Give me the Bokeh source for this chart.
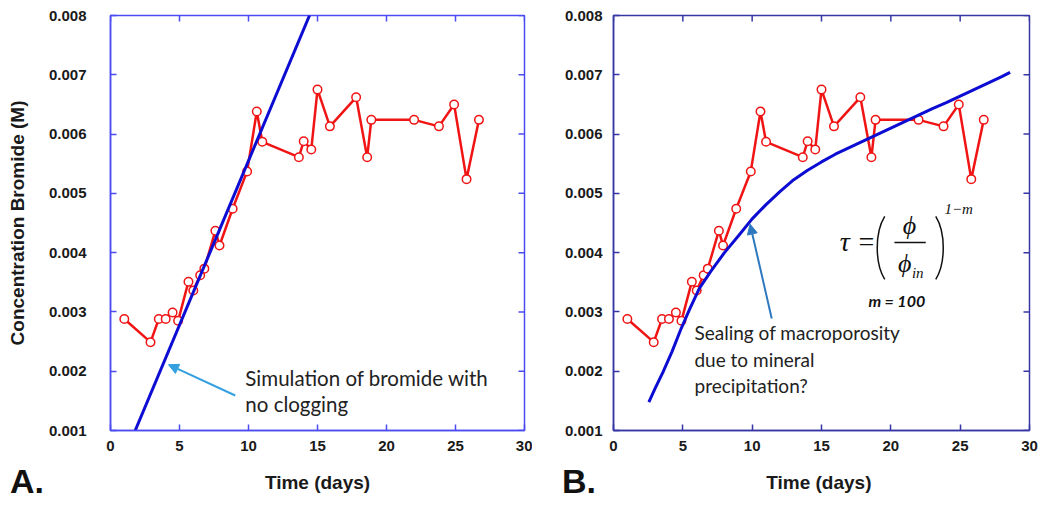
from math import pi
from bokeh.plotting import figure
from bokeh.layouts import row, column
from bokeh.models import (Range1d, FixedTicker, Label, Arrow, NormalHead,
                          ColumnDataSource, Div)
from bokeh.embed import file_html
from bokeh.resources import INLINE

# ---- data ----
time_days = [1.0, 2.9, 3.5, 4.0, 4.5, 4.9, 5.65, 6.0, 6.5, 6.8, 7.6, 7.9, 8.85,
             9.9, 10.6, 11.0, 13.65, 14.0, 14.55, 15.0, 15.9, 17.8, 18.6, 18.9,
             22.0, 23.8, 24.9, 25.8, 26.7]
bromide_m = [0.00288, 0.00249, 0.00288, 0.00288, 0.00299, 0.00285, 0.00351,
             0.00336, 0.00362, 0.00373, 0.00437, 0.00412, 0.00474, 0.00537,
             0.00638, 0.00587, 0.00561, 0.00588, 0.00574, 0.00675, 0.00613,
             0.00662, 0.00561, 0.00624, 0.00624, 0.00613, 0.00650, 0.00524,
             0.00624]

sim_a_time = [1.79, 14.42]
sim_a_conc = [0.001, 0.008]

sim_b_time = [2.55, 3.0, 3.56, 4.22, 4.88, 5.5, 6.2, 7.0, 8.0, 9.0, 10.0,
              11.0, 12.0, 13.0, 14.0, 15.0, 16.0, 17.0, 18.0, 19.0, 20.0,
              21.0, 22.0, 23.0, 24.0, 25.0, 26.0, 27.0, 28.0, 28.6]
sim_b_conc = [0.00148, 0.00171, 0.00198, 0.00233, 0.00272, 0.00305, 0.00340,
              0.00368, 0.00400, 0.00428, 0.00457, 0.00481, 0.00503, 0.00523,
              0.00539, 0.00553, 0.00566, 0.00577, 0.00588, 0.00599, 0.00610,
              0.00621, 0.00632, 0.00643, 0.00653, 0.00664, 0.00675, 0.00686,
              0.00697, 0.00704]

x_ticks = [0, 5, 10, 15, 20, 25, 30]
y_ticks = [0.001, 0.002, 0.003, 0.004, 0.005, 0.006, 0.007, 0.008]
y_tick_labels = ["0.001", "0.002", "0.003", "0.004", "0.005", "0.006",
                 "0.007", "0.008"]

RED = "#f01414"
SIMBLUE = "#0c0cd2"
SANS = "Liberation Sans"
SERIF = "Liberation Serif"
NOTE = "Lato"


def style_axis(ax, color):
    ax.axis_line_color = color
    ax.axis_line_width = 1.5
    ax.major_tick_line_color = color
    ax.major_tick_line_width = 1.5
    ax.major_tick_in = 6
    ax.major_tick_out = 0
    ax.minor_tick_line_color = None
    ax.major_label_text_font = SANS
    ax.major_label_text_font_style = "bold"
    ax.major_label_text_font_size = "15px"
    ax.major_label_text_color = "#1a1a1a"


def make_panel(width, border_left, border_right, axis_color, ylabel, xlabel):
    p = figure(width=width, height=496,
               x_range=Range1d(0, 30), y_range=Range1d(0.001, 0.008),
               output_backend="svg", toolbar_location=None,
               min_border_left=border_left, min_border_right=border_right,
               min_border_top=15, min_border_bottom=66)
    p.grid.visible = False
    p.outline_line_color = axis_color
    p.outline_line_width = 1.5
    p.background_fill_color = "white"
    p.border_fill_color = "white"

    xa = p.xaxis[0]
    ya = p.yaxis[0]
    xa.ticker = FixedTicker(ticks=x_ticks)
    ya.ticker = FixedTicker(ticks=y_ticks)
    ya.major_label_overrides = dict(zip(y_ticks, y_tick_labels))
    style_axis(xa, axis_color)
    style_axis(ya, axis_color)
    xa.major_label_standoff = 10
    xa.axis_label = xlabel
    xa.axis_label_text_font = SANS
    xa.axis_label_text_font_style = "bold"
    xa.axis_label_text_font_size = "19px"
    xa.axis_label_text_color = "#1a1a1a"
    xa.axis_label_standoff = 18
    if ylabel:
        ya.major_label_standoff = 24
        ya.axis_label = ylabel
        ya.axis_label_text_font = SANS
        ya.axis_label_text_font_style = "bold"
        ya.axis_label_text_font_size = "19px"
        ya.axis_label_text_color = "#1a1a1a"
        ya.axis_label_standoff = 18
    else:
        ya.major_label_standoff = 11

    # inward ticks on the top and right edges of the frame
    p.scatter(x=x_ticks, y=[0.008] * len(x_ticks), marker="dash", size=12,
              angle=pi / 2, line_color=axis_color, line_width=1.5)
    p.scatter(x=[30] * len(y_ticks), y=y_ticks, marker="dash", size=12,
              line_color=axis_color, line_width=1.5)

    src = ColumnDataSource(dict(t=time_days, c=bromide_m))
    p.line("t", "c", source=src, line_color=RED, line_width=2.5)
    p.scatter("t", "c", source=src, marker="circle", size=8.5,
              line_color=RED, fill_color="white", line_width=1.5)
    return p


def note(p, x, y, text, size, font=NOTE, style="normal", align="left",
         color="#222222"):
    p.add_layout(Label(x=x, y=y, text=text, text_font=font,
                       text_font_style=style, text_font_size=size,
                       text_align=align, text_baseline="middle",
                       text_color=color))


def panel_tag(text, left):
    return Div(text=('<span style="font-family: \'Liberation Sans\'; '
                     'font-weight: bold; font-size: 34px; line-height: 28px; '
                     'color: #111111; white-space: nowrap;">%s</span>' % text),
               width=60, height=28, margin=(-29, 0, 0, left))


# ---------- Panel A ----------
pA = make_panel(532, 110, 8, "#4b4bf2", "Concentration Bromide (M)",
                "Time (days)")
pA.line(sim_a_time, sim_a_conc, line_color=SIMBLUE, line_width=3)
pA.add_layout(Arrow(end=NormalHead(size=10, fill_color="#34a0e0",
                                   line_color="#34a0e0"),
                    x_start=9.04, y_start=0.00159, x_end=4.2, y_end=0.00211,
                    line_color="#34a0e0", line_width=2))
note(pA, 9.77, 0.00189, "Simulation of bromide with", "20.5px")
note(pA, 9.77, 0.001455, "no clogging", "20.5px")

# ---------- Panel B ----------
pB = make_panel(512, 81, 15, "#3636a6", None, "Time  (days)")
pB.line(sim_b_time, sim_b_conc, line_color=SIMBLUE, line_width=3)
pB.add_layout(Arrow(end=NormalHead(size=10, fill_color="#2e78c0",
                                   line_color="#2e78c0"),
                    x_start=11.41, y_start=0.00289, x_end=9.85,
                    y_end=0.00448, line_color="#2e78c0", line_width=2))
note(pB, 5.84, 0.002654, "Sealing of macroporosity", "19px")
note(pB, 5.84, 0.002203, "due to mineral", "19px")
note(pB, 5.84, 0.001759, "precipitation?", "19px")

# equation  tau = (phi / phi_in)^(1-m)
note(pB, 16.32, 0.00418, "τ =", "28px", font=SERIF, style="italic",
     color="#111111")
note(pB, 21.34, 0.00446, "ϕ", "26px", font=SERIF, style="italic",
     align="center", color="#111111")
note(pB, 21.0, 0.00381, "ϕ", "26px", font=SERIF, style="italic",
     align="center", color="#111111")
note(pB, 21.94, 0.00366, "in", "15px", font=SERIF, style="italic",
     align="center", color="#111111")
note(pB, 23.87, 0.004735, "1−m", "15px", font=SERIF, style="italic",
     color="#111111")
pB.segment(x0=[20.26], y0=[0.004173], x1=[22.52], y1=[0.004173],
           line_color="#111111", line_width=1.5)
pB.bezier(x0=[19.56], y0=[0.004612], x1=[19.56], y1=[0.003549],
          cx0=[18.84], cy0=[0.004342], cx1=[18.84], cy1=[0.003819],
          line_color="#111111", line_width=1.5)
pB.bezier(x0=[23.24], y0=[0.004612], x1=[23.24], y1=[0.003549],
          cx0=[23.96], cy0=[0.004342], cx1=[23.96], cy1=[0.003819],
          line_color="#111111", line_width=1.5)
note(pB, 20.43, 0.003194, "m = 100", "16px", style="bold italic",
     align="center", color="#111111")

tags = row(panel_tag("A.", 10), panel_tag("B.", 492), spacing=0)
layout = column(row(pA, pB, spacing=0), tags, spacing=0)
open("out.html", "w").write(file_html(layout, INLINE))
